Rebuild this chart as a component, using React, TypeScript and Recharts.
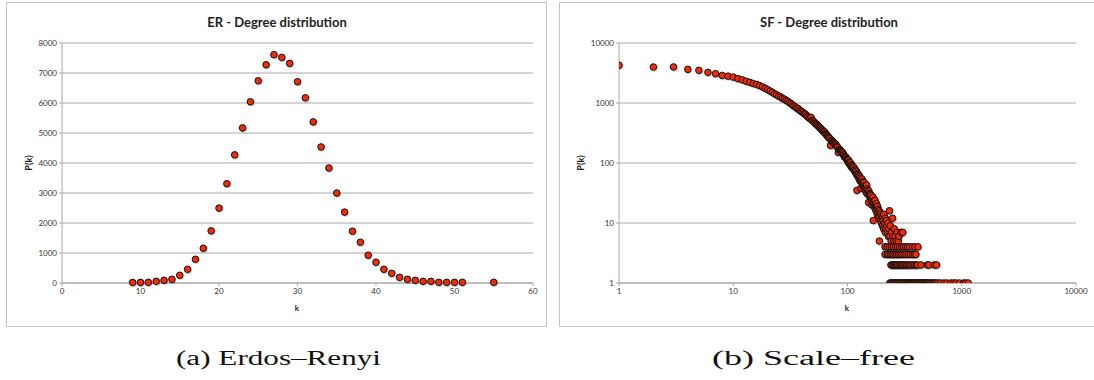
import React from 'react';
import { ScatterChart, Scatter, XAxis, YAxis, CartesianGrid } from 'recharts';

// ---------- ER data ----------
const ER_K = [9, 10, 11, 12, 13, 14, 15, 16, 17, 18, 19, 20, 21, 22, 23, 24, 25, 26, 27, 28, 29, 30, 31, 32, 33, 34, 35, 36, 37, 38, 39, 40, 41, 42, 43, 44, 45, 46, 47, 48, 49, 50, 51, 55];
const ER_P = [18, 20, 22, 56, 89, 123, 256, 457, 791, 1159, 1738, 2496, 3310, 4270, 5170, 6040, 6740, 7275, 7610, 7520, 7320, 6710, 6173, 5370, 4535, 3833, 2997, 2362, 1727, 1359, 925, 691, 457, 323, 189, 123, 89, 56, 56, 22, 22, 22, 22, 22];
const ER_X_TICKS = [0, 10, 20, 30, 40, 50, 60];
const ER_Y_TICKS = [0, 1000, 2000, 3000, 4000, 5000, 6000, 7000, 8000];

// ---------- SF data ----------
const SF_CURVE_K = [1, 2, 3, 4, 5, 6, 7, 8, 9, 10, 11, 12, 13, 14, 15, 16, 17, 18, 19, 20, 21, 22, 23, 24, 25, 26, 27, 28, 29, 30, 31, 32, 33, 34, 35, 36, 37, 38, 39, 40, 41, 42, 43, 44, 45, 46, 47, 48, 49, 50, 51, 52, 53, 54, 55, 56, 57, 58, 59, 60, 61, 62, 63, 64, 65, 66, 67, 68, 69, 70, 71, 72, 73, 74, 75, 76, 77, 78, 79, 80, 81, 82, 83, 84, 85, 86, 87, 88, 89, 90, 91, 92, 93, 94, 95, 96, 97, 98, 99, 100];
const SF_CURVE_P = [4250, 3980, 3990, 3640, 3500, 3240, 3080, 2880, 2800, 2700, 2540, 2430, 2300, 2210, 2110, 2040, 1950, 1860, 1760, 1670, 1580, 1510, 1420, 1370, 1300, 1260, 1200, 1160, 1110, 1070, 1020, 980, 930, 890, 860, 820, 805, 760, 735, 710, 690, 660, 645, 610, 590, 570, 548, 575, 515, 500, 482, 458, 450, 436, 421, 406, 393, 380, 367, 355, 343, 332, 328, 310, 299, 290, 281, 272, 264, 256, 196, 241, 234, 227, 221, 215, 209, 203, 205, 193, 187, 183, 150, 168, 169, 164, 160, 156, 151, 147, 148, 139, 135, 126, 128, 124, 125, 118, 114, 111];
const SF_TAIL_K = [101, 102, 103, 104, 105, 106, 107, 108, 109, 110, 111, 112, 113, 114, 115, 116, 117, 118, 119, 120, 121, 122, 123, 124, 125, 126, 127, 128, 129, 130, 131, 132, 133, 134, 135, 136, 137, 138, 139, 140, 141, 142, 143, 144, 145, 146, 147, 148, 149, 150, 152, 153, 154, 155, 156, 157, 158, 160, 161, 162, 163, 165, 166, 167, 168, 170, 171, 172, 174, 175, 176, 178, 179, 180, 182, 183, 185, 186, 188, 189, 190, 191, 193, 195, 196, 198, 200, 202, 203, 205, 207, 208, 210, 212, 214, 215, 217, 219, 221, 225, 226, 228, 230, 233, 235, 237, 241, 243, 248, 250, 255, 257, 262, 267, 272, 278, 282, 295, 305];
const SF_TAIL_P = [105, 112, 98, 104, 96, 101, 88, 94, 85, 90, 82, 86, 79, 84, 74, 78, 71, 76, 66, 72, 35, 67, 60, 65, 58, 62, 53, 59, 50, 56, 38, 52, 48, 54, 46, 43, 49, 40, 44, 47, 38, 42, 36, 41, 33, 39, 43, 31, 37, 35, 32, 22, 34, 29, 31, 27, 30, 26, 29, 24, 20, 25, 22, 27, 11, 23, 21, 19, 24, 17, 20, 16, 21, 18, 14, 19, 15, 17, 12, 16, 5, 13, 15, 11, 14, 10, 13, 9, 12, 11, 8, 14, 9, 10, 7, 12, 8, 11, 9, 7, 10, 6, 8, 16, 6, 9, 5, 7, 12, 6, 5, 8, 6, 5, 7, 5, 6, 7, 7];
const SF_FOURS_K = [213, 222, 232, 242, 252, 263, 273, 285, 298, 310, 322, 335, 350, 372, 390, 414];
const SF_THREES_K = [213, 223, 230, 238, 245, 253, 262, 270, 280, 290, 300, 312, 325, 340, 355, 372, 385, 397];
const SF_TWOS_K = [240, 246, 251, 258, 263, 269, 275, 283, 290, 298, 305, 313, 322, 331, 340, 350, 362, 375, 388, 400, 410, 440, 500, 515, 575, 602];
const SF_ONES_K = [235, 240, 244, 252, 256, 261, 265, 270, 276, 281, 286, 293, 300, 306, 311, 318, 324, 330, 337, 343, 350, 356, 362, 370, 377, 384, 392, 400, 408, 415, 423, 431, 440, 448, 456, 465, 474, 483, 492, 502, 512, 525, 537, 550, 566, 580, 594, 620, 650, 698, 740, 802, 850, 891, 956, 1040, 1080, 1137];
const SF_LOG_TICKS = [1, 10, 100, 1000, 10000];

const erData = ER_K.map((k, i) => ({ k, p: ER_P[i] }));
const sfData = [
  ...SF_CURVE_K.map((k, i) => ({ k, p: SF_CURVE_P[i] })),
  ...SF_TAIL_K.map((k, i) => ({ k, p: SF_TAIL_P[i] })),
  ...SF_FOURS_K.map((k) => ({ k, p: 4 })),
  ...SF_THREES_K.map((k) => ({ k, p: 3 })),
  ...SF_TWOS_K.map((k) => ({ k, p: 2 })),
  ...SF_ONES_K.map((k) => ({ k, p: 1 })),
];

const FONT = 'Lato, "Liberation Sans", sans-serif';
const GRID = '#a8a8a8';
const TICK = { fontSize: 8, fill: '#333', fontFamily: FONT };

const Dot = (props: any) => {
  const { cx, cy } = props;
  if (cx == null || cy == null) return null;
  return (
    <g>
      <circle cx={cx + 0.8} cy={cy + 1.2} r={3.6} fill="#000" opacity={0.18} />
      <circle cx={cx} cy={cy} r={3.3} fill="#f42a08" stroke="#111" strokeWidth={1} />
    </g>
  );
};

export default function App() {
  return (
    <div style={{ position: 'absolute', left: 0, top: 0, width: 1094, height: 380, background: '#fff', overflow: 'hidden' }}>
      {/* frames */}
      <div style={{ position: 'absolute', left: 6, top: 2, width: 539, height: 323, border: '1.5px solid #c4c4c4' }} />
      <div style={{ position: 'absolute', left: 559, top: 2, width: 539, height: 323, border: '1.5px solid #c4c4c4' }} />

      {/* ER chart */}
      <div style={{ position: 'absolute', left: 0, top: 0 }}>
        <ScatterChart width={546} height={330} margin={{ top: 43, right: 13, bottom: 17, left: 0 }}>
          <CartesianGrid horizontal vertical={false} stroke={GRID} strokeWidth={1} />
          <XAxis type="number" dataKey="k" domain={[0, 60]} ticks={ER_X_TICKS} tick={TICK} tickSize={3} height={30}
            axisLine={{ stroke: GRID }} tickLine={{ stroke: GRID }} interval={0} />
          <YAxis type="number" dataKey="p" domain={[0, 8000]} ticks={ER_Y_TICKS} tick={TICK} tickSize={3} width={62}
            axisLine={{ stroke: GRID }} tickLine={{ stroke: GRID }} interval={0} />
          <Scatter data={erData} isAnimationActive={false} shape={Dot} />
        </ScatterChart>
      </div>

      {/* SF chart */}
      <div style={{ position: 'absolute', left: 548, top: 0 }}>
        <ScatterChart width={546} height={330} margin={{ top: 43, right: 18, bottom: 17, left: 0 }}>
          <CartesianGrid horizontal vertical={false} stroke={GRID} strokeWidth={1} />
          <XAxis type="number" dataKey="k" scale="log" domain={[1, 10000]} ticks={SF_LOG_TICKS} tick={TICK} tickSize={3} height={30}
            axisLine={{ stroke: GRID }} tickLine={{ stroke: GRID }} interval={0} allowDataOverflow />
          <YAxis type="number" dataKey="p" scale="log" domain={[1, 10000]} ticks={SF_LOG_TICKS} tick={TICK} tickSize={3} width={71}
            axisLine={{ stroke: GRID }} tickLine={{ stroke: GRID }} interval={0} allowDataOverflow />
          <Scatter data={sfData} isAnimationActive={false} shape={Dot} />
        </ScatterChart>
      </div>

      {/* texts */}
      <svg width={1094} height={380} style={{ position: 'absolute', left: 0, top: 0, pointerEvents: 'none' }}>
        <text x={277} y={27} textAnchor="middle" fontFamily={FONT} fontWeight="bold" fontSize={13} fill="#222">ER - Degree distribution</text>
        <text x={829} y={27} textAnchor="middle" fontFamily={FONT} fontWeight="bold" fontSize={13} fill="#222">SF - Degree distribution</text>
        <text x={297} y={311} textAnchor="middle" fontFamily={FONT} fontWeight="bold" fontSize={8} fill="#222">k</text>
        <text x={847} y={311} textAnchor="middle" fontFamily={FONT} fontWeight="bold" fontSize={8} fill="#222">k</text>
        <text x={0} y={0} transform="translate(32,163) rotate(-90)" textAnchor="middle" fontFamily={FONT} fontWeight="bold" fontSize={9} fill="#222">P(k)</text>
        <text x={0} y={0} transform="translate(584,163) rotate(-90)" textAnchor="middle" fontFamily={FONT} fontWeight="bold" fontSize={9} fill="#222">P(k)</text>
        <text x={176} y={365} fontFamily='"Liberation Serif", serif' fontSize={20} fill="#111" textLength={205} lengthAdjust="spacingAndGlyphs">(a) Erdos–Renyi</text>
        <text x={712} y={365} fontFamily='"Liberation Serif", serif' fontSize={20} fill="#111" textLength={203} lengthAdjust="spacingAndGlyphs">(b) Scale–free</text>
      </svg>
    </div>
  );
}
